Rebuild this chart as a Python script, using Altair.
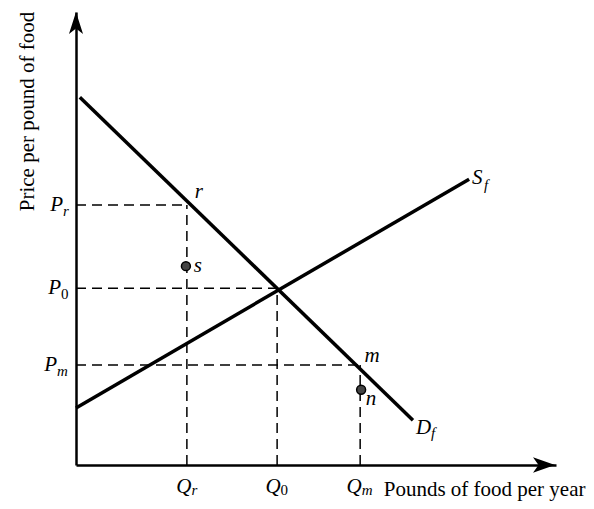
import altair as alt
import pandas as pd

# ---- data (economic units, 0..100 on both axes) ----
quantity_ticks = [23.1, 41.9, 59.2]      # Q_r, Q_0, Q_m
price_ticks = [57.4, 39.0, 22.1]         # P_r, P_0, P_m
tick_subs = ["r", "0", "m"]
sub_styles = ["italic", "normal", "italic"]
sub_widths = [6, 8, 12]

demand_q = [0.8, 70.2]
demand_p = [81.2, 9.9]
supply_q = [0.0, 81.9]
supply_p = [12.6, 63.1]

point_names = ["s", "n"]
point_q = [22.9, 59.4]
point_p = [43.9, 16.6]

axis_max = 100

FONT = "Liberation Serif"

xs = alt.Scale(domain=[0, axis_max], nice=False, zero=False)
ys = alt.Scale(domain=[0, axis_max], nice=False, zero=False)

xaxis = alt.Axis(title="Pounds of food per year", domain=True, domainColor="black",
                 domainWidth=2.5, ticks=False, labels=False, grid=False,
                 titleFont=FONT, titleFontSize=21, titleFontWeight="normal",
                 titleColor="black", titleX=509, titleY=24, titleAlign="right",
                 titleBaseline="middle")
yaxis = alt.Axis(title="Price per pound of food", domain=True, domainColor="black",
                 domainWidth=2.5, ticks=False, labels=False, grid=False,
                 titleFont=FONT, titleFontSize=21, titleFontWeight="normal",
                 titleColor="black", titleX=-49, titleY=99, titleAngle=270,
                 titleAlign="center", titleBaseline="middle")


def enc(ch):
    return ch.encode(x=alt.X("q:Q", scale=xs, axis=xaxis),
                     y=alt.Y("p:Q", scale=ys, axis=yaxis))


def txt(df, text, dx, dy, size, align="center", style="italic"):
    return enc(alt.Chart(df).mark_text(text=text, dx=dx, dy=dy, font=FONT,
                                       fontStyle=style, fontSize=size,
                                       align=align, baseline="middle",
                                       color="black"))


layers = []

# dashed guide lines
guides = pd.DataFrame({"q": quantity_ticks, "p": price_ticks, "zero": [0] * 3})
layers.append(alt.Chart(guides).mark_rule(color="black", strokeWidth=1.5,
                                          strokeDash=[10, 6]).encode(
    x=alt.X("zero:Q", scale=xs, axis=xaxis), x2="q:Q",
    y=alt.Y("p:Q", scale=ys, axis=yaxis)))
layers.append(alt.Chart(guides).mark_rule(color="black", strokeWidth=1.5,
                                          strokeDash=[10, 6]).encode(
    x=alt.X("q:Q", scale=xs, axis=xaxis),
    y=alt.Y("zero:Q", scale=ys, axis=yaxis), y2="p:Q"))

# demand and supply
demand = pd.DataFrame({"q": demand_q, "p": demand_p})
supply = pd.DataFrame({"q": supply_q, "p": supply_p})
layers.append(enc(alt.Chart(demand).mark_line(color="black", strokeWidth=3.5)))
layers.append(enc(alt.Chart(supply).mark_line(color="black", strokeWidth=3.5)))

# axis arrowheads
up = pd.DataFrame({"q": [0], "p": [axis_max]})
right = pd.DataFrame({"q": [axis_max], "p": [0]})
layers.append(enc(alt.Chart(up).mark_point(
    shape="M0,-1 L0.64,1 L0,0.5 L-0.64,1 Z", size=484, filled=True,
    color="black", opacity=1, yOffset=11)))
layers.append(enc(alt.Chart(right).mark_point(
    shape="M1,0 L-1,-0.7 L-0.5,0 L-1,0.7 Z", size=484, filled=True,
    color="black", opacity=1, xOffset=-12)))

# points s and n
pts = pd.DataFrame({"q": point_q, "p": point_p, "name": point_names})
layers.append(enc(alt.Chart(pts).mark_point(shape="circle", size=80, filled=True,
                                            fill="#444444", stroke="black",
                                            strokeWidth=1.5, opacity=1)))
layers.append(txt(pts.iloc[[0]], "s", 12, 0, 21))
layers.append(txt(pts.iloc[[1]], "n", 10, 9, 21))

# r and m labels
rpt = pd.DataFrame({"q": [quantity_ticks[0]], "p": [price_ticks[0]]})
mpt = pd.DataFrame({"q": [quantity_ticks[2]], "p": [price_ticks[2]]})
layers.append(txt(rpt, "r", 12, -13, 21))
layers.append(txt(mpt, "m", 12, -9, 21))

# curve labels
s_end = supply.iloc[[1]]
d_end = demand.iloc[[1]]
layers.append(txt(s_end, "S", 3, -1, 21, "left"))
layers.append(txt(s_end, "f", 15, 6, 15, "left"))
layers.append(txt(d_end, "D", 3, 8, 21, "left"))
layers.append(txt(d_end, "f", 18, 13, 15, "left"))

# tick labels with subscripts
for val, sub, st, w in zip(price_ticks, tick_subs, sub_styles, sub_widths):
    d = pd.DataFrame({"q": [0], "p": [val]})
    anchor = -7 - w
    layers.append(txt(d, "P", anchor, 0, 21, "right"))
    layers.append(txt(d, sub, anchor, 6, 15, "left", st))

for val, sub, st, w in zip(quantity_ticks, tick_subs, sub_styles, sub_widths):
    d = pd.DataFrame({"q": [val], "p": [0]})
    anchor = (15 - w) / 2
    layers.append(txt(d, "Q", anchor, 22, 21, "right"))
    layers.append(txt(d, sub, anchor, 25, 15, "left", st))

chart = alt.layer(*layers).properties(
    width=480, height=453,
    autosize=alt.AutoSizeParams(type="none"),
    padding={"left": 68, "top": 4, "right": 30, "bottom": 36},
    background="white",
).configure_view(stroke=None)

chart.save("out.html", embed_options={"renderer": "svg", "actions": False})
